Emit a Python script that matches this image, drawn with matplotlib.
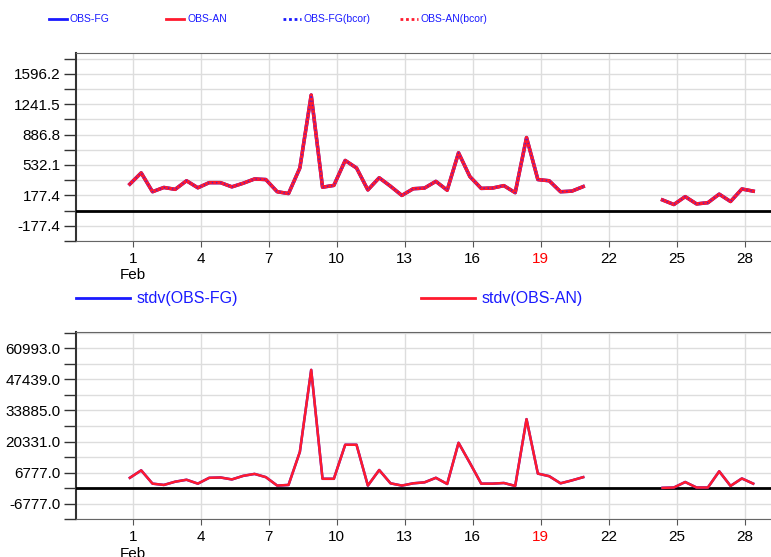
import numpy as np
import matplotlib.pyplot as plt
from matplotlib.lines import Line2D

plt.rcParams['font.family'] = ['Liberation Sans', 'DejaVu Sans']

# 12-hourly time axis (days of February), gap = missing data
times = 0.875 + 0.5 * np.arange(56)

nan = np.nan
mean_vals = [309, 440, 220, 270, 248, 348, 266, 326, 326, 277,
             319, 369, 362, 220, 199, 497, 1348, 273, 294, 585,
             497, 241, 383, 284, 177, 255, 263, 341, 238, 674,
             397, 259, 263, 291, 209, 852, 362, 348, 220, 227,
             280, nan, nan, nan, nan, nan, nan, 124, 71, 163,
             78, 92, 192, 106, 252, 227]

stdv_vals = [4518, 7766, 1977, 1412, 2824, 3671, 1977, 4518, 4660, 3812,
             5366, 6213, 4801, 1130, 1412, 15814, 51538, 4095, 4095, 18921,
             18921, 1130, 7907, 2118, 1130, 2118, 2542, 4518, 1836, 19768,
             11014, 1977, 1977, 2259, 988, 30076, 6354, 5224, 2118, 3389,
             4801, nan, nan, nan, nan, nan, nan, 141, 282, 2683,
             282, 282, 7342, 988, 4236, 1977]

mean_ticks = [-177.4, 177.4, 532.1, 886.8, 1241.5, 1596.2]
stdv_ticks = [-6777.0, 6777.0, 20331.0, 33885.0, 47439.0, 60993.0]
day_ticks = [1, 4, 7, 10, 13, 16, 19, 22, 25, 28]

top_labels = ['OBS-FG', 'OBS-AN', 'OBS-FG(bcor)', 'OBS-AN(bcor)']
bot_labels = ['stdv(OBS-FG)', 'stdv(OBS-AN)']

BLUE = '#1a1aff'
RED = '#ff1a2e'

fig = plt.figure(figsize=(7.71, 5.57), dpi=100)
ax1 = fig.add_axes([0.0986, 0.5673, 0.9014, 0.3375])
ax2 = fig.add_axes([0.0986, 0.0677, 0.9014, 0.3363])


def style_axis(ax, yticks, ylim):
    step = yticks[1] - yticks[0]
    minor = [t + step / 2 for t in yticks] + [yticks[0] - step / 2]
    ax.set_xlim(-1.5, 29.16)
    ax.set_ylim(*ylim)
    ax.set_yticks(yticks)
    ax.set_yticklabels([f'{t:.1f}' for t in yticks])
    ax.set_yticks(minor, minor=True)
    ax.set_xticks(day_ticks)
    labels = [str(d) for d in day_ticks]
    labels[0] = '1\nFeb'
    ax.set_xticklabels(labels)
    for lab in ax.get_xticklabels():
        if lab.get_text() == '19':
            lab.set_color('red')
    ax.tick_params(axis='y', which='both', length=9, width=1, labelsize=11,
                   color='#333333', pad=2)
    ax.tick_params(axis='x', length=4, labelsize=11, color='#555555', pad=4)
    ax.grid(True, which='both', axis='y', color='#dddddd', lw=1)
    ax.grid(True, which='major', axis='x', color='#dddddd', lw=1)
    ax.set_axisbelow(True)
    ax.spines['right'].set_visible(False)
    ax.spines['left'].set_color('#333333')
    ax.spines['left'].set_linewidth(1.5)
    ax.spines['top'].set_color('#666666')
    ax.spines['bottom'].set_color('#666666')
    ax.axhline(0, color='black', lw=2, zorder=3)


style_axis(ax1, mean_ticks, (-224, 1838))
style_axis(ax2, stdv_ticks, (-11154, 68053))

# top: mean departures
ax1.plot(times, mean_vals, color=BLUE, lw=2.5, zorder=4)
ax1.plot(times, mean_vals, color=RED, lw=2.5, zorder=5)
ax1.plot(times, mean_vals, color=RED, lw=2.0, ls=(0, (1, 1)), zorder=6)
ax1.plot(times, mean_vals, color=BLUE, lw=1.0, ls=(0, (1, 2)), zorder=7, alpha=0.7)

# bottom: standard deviations
ax2.plot(times, stdv_vals, color=BLUE, lw=1.8, zorder=4)
ax2.plot(times, stdv_vals, color=RED, lw=1.8, zorder=5)

# legends, fixed-width cells like the original
W, H = 771.0, 557.0
top_styles = [(BLUE, '-'), (RED, '-'), (BLUE, (0, (1, 1))), (RED, (0, (1, 1)))]
y_top = 1 - 19 / H
for i, (lab, (col, ls)) in enumerate(zip(top_labels, top_styles)):
    x0 = 49 + 117 * i
    fig.add_artist(Line2D([x0 / W, (x0 + 18) / W], [y_top, y_top],
                          color=col, lw=2, ls=ls))
    fig.text((x0 + 21) / W, y_top, lab, color=BLUE, fontsize=7.5,
             family=['Liberation Sans Narrow', 'Liberation Sans'],
             va='center', ha='left')

y_bot = 1 - 298.3 / H
for i, (lab, col) in enumerate(zip(bot_labels, [BLUE, RED])):
    x0 = 76 + 344.7 * i
    fig.add_artist(Line2D([x0 / W, (x0 + 54) / W], [y_bot, y_bot],
                          color=col, lw=2))
    fig.text((x0 + 61) / W, y_bot, lab, color=BLUE, fontsize=11.5,
             va='center', ha='left')

fig.savefig('out.png', dpi=100)
plt.close(fig)
